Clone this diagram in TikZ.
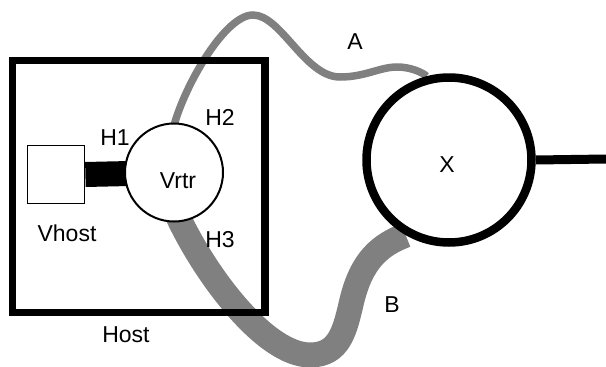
\documentclass[tikz,border=0pt]{standalone}
\usepackage{fontspec}
\setmainfont{Liberation Sans}
\usetikzlibrary{backgrounds}
\definecolor{cablegray}{HTML}{808080}
\begin{document}
\begin{tikzpicture}[x=1pt,y=-1pt,
  lbl/.style={font=\fontsize{23}{27}\selectfont, inner sep=0pt},
  hostbox/.style={draw, line width=7.5pt, minimum width=252.5pt, minimum height=252pt, inner sep=0pt},
  vhostbox/.style={draw, line width=1.8pt, fill=white, minimum width=57pt, minimum height=58pt, inner sep=0pt},
  vrtrcirc/.style={draw, circle, line width=2pt, fill=white, minimum size=98pt, inner sep=0pt},
  xcirc/.style={draw, circle, line width=8.5pt, fill=white, minimum size=165pt, inner sep=0pt},
  thincable/.style={draw=cablegray, line width=7.5pt},
  thickcable/.style={draw=cablegray, line width=25pt},
]
\useasboundingbox (0,0) rectangle (606,367);
\node[hostbox] (host) at (138.75,186.5) {};
\node[vhostbox] (vhost) at (56,174.5) {};
\node[vrtrcirc] (vrtr) at (174,172.5) {};
\node[xcirc] (x) at (449,160) {};
\coordinate (rend) at (606,159);

\begin{scope}[on background layer]
  \draw[line width=25pt] (vhost.east) -- (vrtr.center);
  \draw[thincable] (vrtr.north) ++(0,3) .. controls (185,85) and (225,15) .. (253,15)
     .. controls (281,15) and (305,77) .. (340,77)
     .. controls (365,77) and (380,67) .. (397,67)
     .. controls (410,67) and (422,72) .. (x.105);
  \draw[thickcable] (vrtr.south) ++(3,-8) .. controls (205,275) and (265,355) .. (310,355)
     .. controls (340,355) and (345,330) .. (352,300)
     .. controls (362,260) and (380,245) .. (x.240);
\end{scope}

\draw[line width=9pt] (x.east) -- (rend);

\node[lbl] (lh1) at (115,138) {H1};
\node[lbl] (lh2) at (220,117) {H2};
\node[lbl] (lh3) at (220,240) {H3};
\node[lbl] (lvrtr) at (178,181) {Vrtr};
\node[lbl] (lvhost) at (67,233) {Vhost};
\node[lbl] (lhost) at (126,335) {Host};
\node[lbl] (lx) at (447,165) {X};
\node[lbl] (la) at (355,42) {A};
\node[lbl] (lb) at (392,305) {B};
\end{tikzpicture}
\end{document}
